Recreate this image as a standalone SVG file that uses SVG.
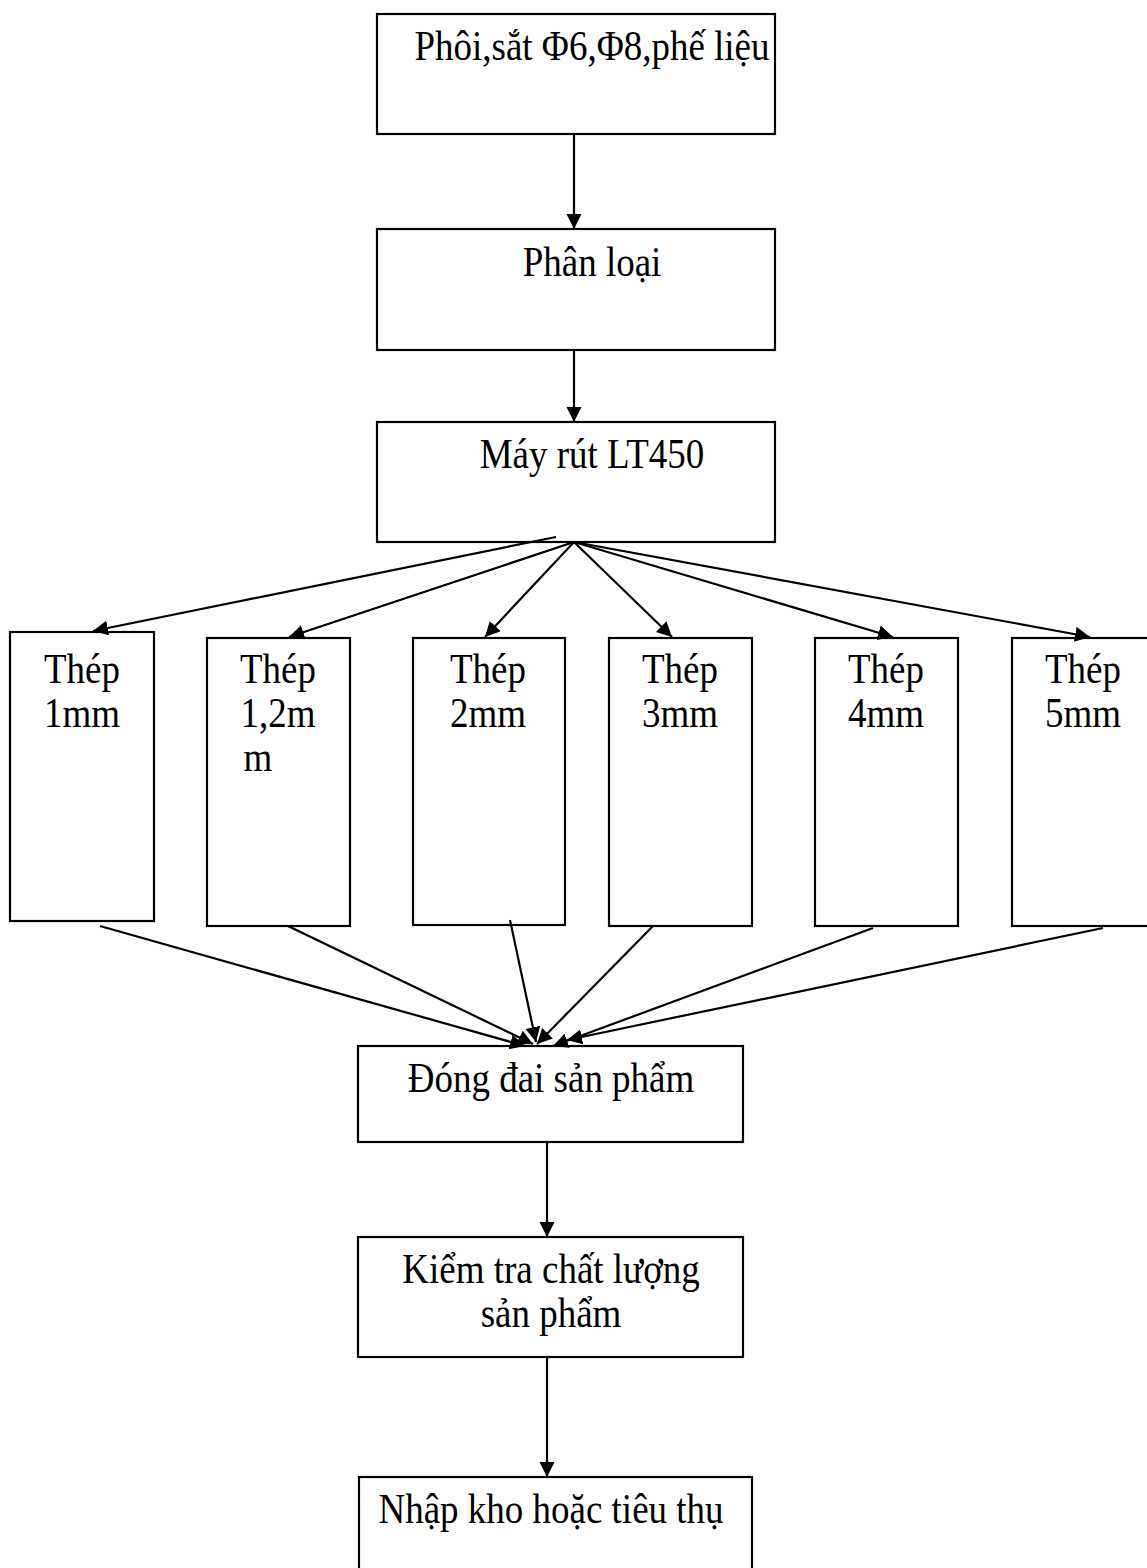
<svg xmlns="http://www.w3.org/2000/svg" width="1147" height="1568" viewBox="0 0 1147 1568">
  <style>
    .box { fill: #ffffff; stroke: #000000; stroke-width: 2.2; }
    .lbl { font-family: "Liberation Serif", "Times New Roman", serif; font-size: 37px; fill: #000000; text-anchor: middle; }
    .edge { stroke: #000000; stroke-width: 2.2; fill: none; marker-end: url(#arrow); }
  </style>
  <defs>
    <marker id="arrow" markerUnits="userSpaceOnUse" markerWidth="16" markerHeight="16" refX="15" refY="7.5" orient="auto">
      <path d="M0,0 L15,7.5 L0,15 z" fill="#000000"/>
    </marker>
  </defs>

  <rect width="1147" height="1568" fill="#ffffff"/>

  <!-- process boxes (labels slightly stretched vertically) -->
  <g id="node-phoi">
    <rect class="box" x="377" y="14" width="398" height="120"/>
    <text class="lbl" transform="translate(592,60) scale(1,1.12)">Phôi,sắt Φ6,Φ8,phế liệu</text>
  </g>
  <g id="node-phanloai">
    <rect class="box" x="377" y="229" width="398" height="121"/>
    <text class="lbl" transform="translate(592,276) scale(1,1.12)">Phân loại</text>
  </g>
  <g id="node-mayrut">
    <rect class="box" x="377" y="422" width="398" height="120"/>
    <text class="lbl" transform="translate(592,468) scale(1,1.12)">Máy rút LT450</text>
  </g>

  <!-- wire gauges -->
  <g id="node-thep1">
    <rect class="box" x="10" y="632" width="144" height="289"/>
    <text class="lbl" transform="translate(82,683) scale(1,1.12)">Thép</text>
    <text class="lbl" transform="translate(82,727) scale(1,1.12)">1mm</text>
  </g>
  <g id="node-thep12">
    <rect class="box" x="207" y="638" width="143" height="288"/>
    <text class="lbl" transform="translate(278,683) scale(1,1.12)">Thép</text>
    <text class="lbl" transform="translate(278,727) scale(1,1.12)">1,2m</text>
    <text class="lbl" transform="translate(258,771) scale(1,1.12)">m</text>
  </g>
  <g id="node-thep2">
    <rect class="box" x="413" y="638" width="152" height="287"/>
    <text class="lbl" transform="translate(488,683) scale(1,1.12)">Thép</text>
    <text class="lbl" transform="translate(488,727) scale(1,1.12)">2mm</text>
  </g>
  <g id="node-thep3">
    <rect class="box" x="609" y="638" width="143" height="288"/>
    <text class="lbl" transform="translate(680,683) scale(1,1.12)">Thép</text>
    <text class="lbl" transform="translate(680,727) scale(1,1.12)">3mm</text>
  </g>
  <g id="node-thep4">
    <rect class="box" x="815" y="638" width="143" height="288"/>
    <text class="lbl" transform="translate(886,683) scale(1,1.12)">Thép</text>
    <text class="lbl" transform="translate(886,727) scale(1,1.12)">4mm</text>
  </g>
  <g id="node-thep5">
    <rect class="box" x="1012" y="638" width="143" height="288"/>
    <text class="lbl" transform="translate(1083,683) scale(1,1.12)">Thép</text>
    <text class="lbl" transform="translate(1083,727) scale(1,1.12)">5mm</text>
  </g>

  <!-- finishing steps -->
  <g id="node-dongdai">
    <rect class="box" x="358" y="1046" width="385" height="96"/>
    <text class="lbl" transform="translate(551,1092) scale(1,1.12)">Đóng đai sản phẩm</text>
  </g>
  <g id="node-kiemtra">
    <rect class="box" x="358" y="1237" width="385" height="120"/>
    <text class="lbl" transform="translate(551,1283) scale(1,1.12)">Kiểm tra chất lượng</text>
    <text class="lbl" transform="translate(551,1327) scale(1,1.12)">sản phẩm</text>
  </g>
  <g id="node-nhapkho">
    <rect class="box" x="359" y="1477" width="393" height="100"/>
    <text class="lbl" transform="translate(551,1523) scale(1,1.12)">Nhập kho hoặc tiêu thụ</text>
  </g>

  <!-- connectors -->
  <g id="connectors">
    <line class="edge" x1="574" y1="134" x2="574" y2="229"/>
    <line class="edge" x1="574" y1="350" x2="574" y2="422"/>

    <line class="edge" x1="556" y1="537" x2="93" y2="631"/>
    <line class="edge" x1="574" y1="542" x2="289" y2="637"/>
    <line class="edge" x1="574" y1="542" x2="485" y2="637"/>
    <line class="edge" x1="574" y1="542" x2="672" y2="637"/>
    <line class="edge" x1="574" y1="542" x2="893" y2="637"/>
    <line class="edge" x1="574" y1="542" x2="1090" y2="637"/>

    <line class="edge" x1="100" y1="926" x2="525" y2="1046"/>
    <line class="edge" x1="288" y1="926" x2="533" y2="1044"/>
    <line class="edge" x1="510" y1="920" x2="536" y2="1042"/>
    <line class="edge" x1="653" y1="926" x2="537" y2="1044"/>
    <line class="edge" x1="873" y1="928" x2="553" y2="1046"/>
    <line class="edge" x1="1103" y1="928" x2="567" y2="1040"/>

    <line class="edge" x1="547" y1="1142" x2="547" y2="1237"/>
    <line class="edge" x1="547" y1="1357" x2="547" y2="1477"/>
  </g>
</svg>
